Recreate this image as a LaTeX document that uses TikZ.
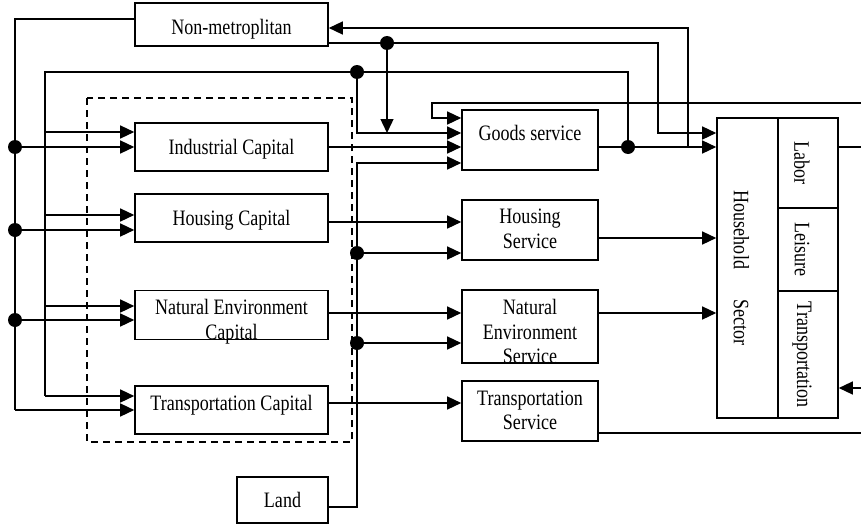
\documentclass[tikz,border=0pt]{standalone}
\usepackage{fontspec}
\setmainfont[FakeStretch=0.82]{Liberation Serif}
\usetikzlibrary{arrows.meta,positioning}

% shifted text block: #1 = raise, #2 = lines
\newcommand{\blktext}[2]{\raisebox{#1}[\height][\depth]{\begin{tabular}{@{}c@{}}#2\end{tabular}}}
% rotated text, moved left by #1
\newcommand{\rottext}[2]{\rotatebox{-90}{\raisebox{-#1}[\height][\depth]{#2}}}

\tikzset{
  blk/.style={draw, line width=1.6pt, inner sep=0pt, align=center,
    font=\fontsize{22}{24.5}\selectfont},
  conn/.style={line width=1.4pt},
  arr/.style={conn, -{Triangle[length=14pt,width=13pt]}},
}

\begin{document}
\begin{tikzpicture}[x=1pt, y=-1pt]
    \useasboundingbox (0,0) rectangle (861,527);

    % Capital side
    \node[blk, minimum width=193pt, minimum height=43pt] (nonmetro) at (231.5,24.5) {\blktext{-5pt}{Non-metroplitan}};
    \node[blk, minimum width=193pt, minimum height=48pt] (indcap) at (231.5,147) {\blktext{-3pt}{Industrial Capital}};
    \node[blk, minimum width=193pt, minimum height=48pt] (houcap) at (231.5,218) {\blktext{-3pt}{Housing Capital}};
    \node[blk, minimum width=193pt, minimum height=48pt] (natcap) at (231.5,315) {\blktext{-7pt}{Natural Environment\\Capital}};
    \node[blk, minimum width=193pt, minimum height=48pt] (tracap) at (231.5,410) {\blktext{4pt}{Transportation Capital}};
    \node[blk, minimum width=91pt, minimum height=46pt] (land) at (282.5,500) {\blktext{-3pt}{Land}};
    \draw[dashed, line width=1.3pt, dash pattern=on 7pt off 5pt] (87,98) rectangle (352,442);

    % Service side
    \node[blk, minimum width=136pt, minimum height=60pt] (goods) at (530,140) {\blktext{4pt}{Goods service}};
    \node[blk, minimum width=136pt, minimum height=60pt] (housrv) at (530,230) {\blktext{-1pt}{Housing\\Service}};
    \node[blk, minimum width=136pt, minimum height=71pt] (natsrv) at (530,326.5) {\blktext{-8pt}{Natural\\Environment\\Service}};
    \node[blk, minimum width=136pt, minimum height=60pt] (trasrv) at (530,411) {\blktext{-1.5pt}{Transportation\\Service}};

    % Household sector
    \node[blk, minimum width=61pt, minimum height=300pt] (hh) at (747.5,268) {\rottext{6pt}{Household\hspace{30pt}Sector}};
    \node[blk, minimum width=60pt, minimum height=90pt] (labor) at (808,163) {\rottext{6pt}{Labor}};
    \node[blk, minimum width=60pt, minimum height=83pt] (leis) at (808,249.5) {\rottext{6pt}{Leisure}};
    \node[blk, minimum width=60pt, minimum height=127pt] (trans) at (808,354.5) {\rottext{6pt}{Transportation}};

    % Junction points
    \coordinate (a0) at (15,19);   % outer bus top
    \coordinate (a4) at (15,410);  % outer bus bottom
    \coordinate (b0) at (45,72);   % inner bus top
    \coordinate (c0) at (357,72);
    \coordinate (k0) at (628,147); % goods output split
    \coordinate (k1) at (688,147);
    \coordinate (k1t) at (688,28);
    \coordinate (m0) at (387,43);
    \coordinate (m1) at (658,43);
    \coordinate (m2) at (658,133);
    \coordinate (g1) at (0,118);
    \coordinate (g2) at (0,133);
    \coordinate (g3) at (0,147);
    \coordinate (r0) at (861,103); % from labor
    \coordinate (r1) at (432,103);
    \coordinate (l0) at (357,507); % land bus
    \coordinate (l1) at (357,163);
    \coordinate (d1) at (357,253);
    \coordinate (d2) at (357,343);
    \coordinate (h1) at (0,222);
    \coordinate (h2) at (0,238);
    \coordinate (n1) at (0,313);
    \coordinate (t1) at (0,403);
    \coordinate (e1) at (861,147);
    \coordinate (e2) at (861,388);
    \coordinate (e3) at (861,433);

    % Outer bus from non-metroplitan
    \draw[conn] (nonmetro.west |- a0) -- (a0) -- (a4);
    \draw[arr] (a4) -- (tracap.west |- a4);
    \foreach \y/\n in {147/indcap, 230/houcap, 320/natcap} {
        \coordinate (p) at (15,\y);
        \fill (p) circle (7pt);
        \draw[arr] (p) -- (\n.west |- p);
    }

    % Inner bus from goods output
    \draw[conn] (k0) |- (b0) -- (45,396);
    \foreach \y/\n in {132/indcap, 215/houcap, 306/natcap, 396/tracap} {
        \coordinate (q) at (45,\y);
        \draw[arr] (q) -- (\n.west |- q);
    }
    \fill (c0) circle (7pt);
    \draw[arr] (c0) |- (goods.west |- g2);

    % Non-metroplitan loops
    \draw[arr] (k1) -- (k1t) -- (nonmetro.east |- k1t);
    \draw[arr] (nonmetro.east |- m0) -- (m1) -- (m2) -- (hh.west |- m2);
    \fill (m0) circle (7pt);
    \draw[arr] (m0) -- (m0 |- g2);

    % Goods service
    \draw[arr] (r0) -- (r1) |- (goods.west |- g1);
    \draw[arr] (indcap.east) -- (goods.west |- indcap.east);
    \draw[arr] (goods.east |- g3) -- (hh.west |- g3);
    \fill (k0) circle (7pt);

    % Land
    \draw[arr] (land.east |- l0) -- (l0) -- (l1) -- (goods.west |- l1);
    \fill (d1) circle (7pt);
    \fill (d2) circle (7pt);
    \draw[arr] (d1) -- (housrv.west |- d1);
    \draw[arr] (d2) -- (natsrv.west |- d2);

    % Capital to service
    \draw[arr] (houcap.east |- h1) -- (housrv.west |- h1);
    \draw[arr] (natcap.east |- n1) -- (natsrv.west |- n1);
    \draw[arr] (tracap.east |- t1) -- (trasrv.west |- t1);

    % Service to household
    \draw[arr] (housrv.east |- h2) -- (hh.west |- h2);
    \draw[arr] (natsrv.east |- n1) -- (hh.west |- n1);
    \draw[conn] (trasrv.east |- e3) -- (e3);
    \draw[conn] (labor.east |- e1) -- (e1);
    \draw[arr] (e2) -- (trans.east |- e2);

\end{tikzpicture}
\end{document}
